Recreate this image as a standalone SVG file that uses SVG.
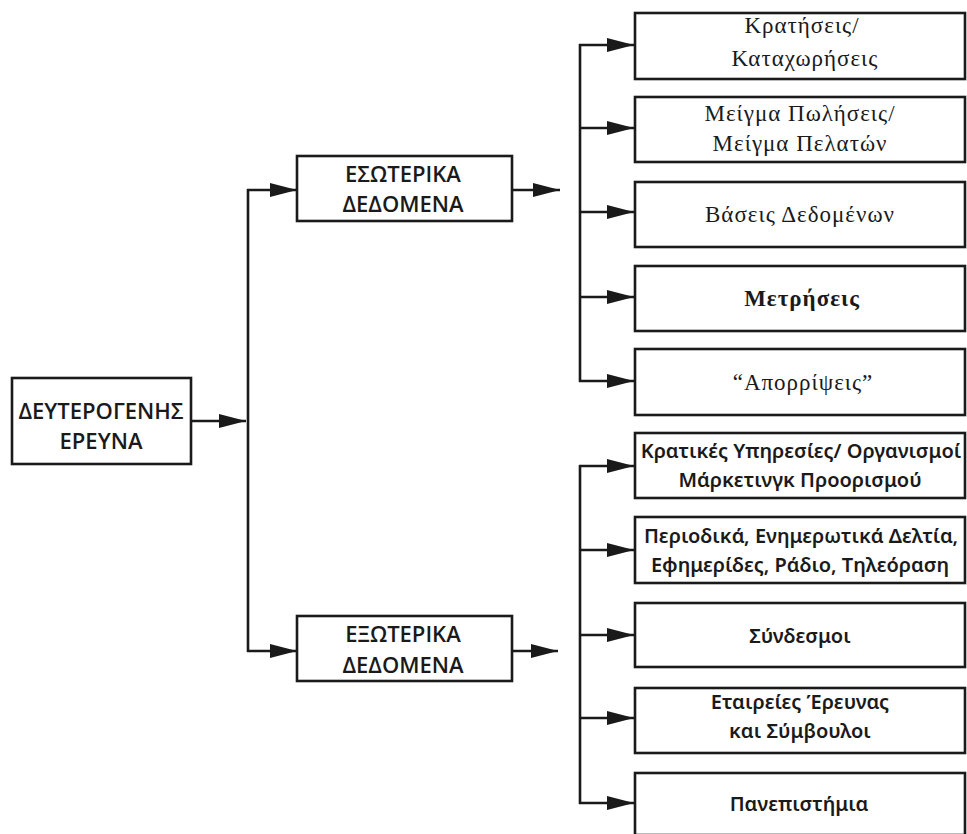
<svg xmlns="http://www.w3.org/2000/svg" width="967" height="834" viewBox="0 0 967 834">
<defs>
<style>
.box{fill:#fff;stroke:#1a1a1a;stroke-width:2.6}
.ln{fill:none;stroke:#1a1a1a;stroke-width:2.6}
.cap{font-family:"Open Sans","Noto Sans","DejaVu Sans",sans-serif;font-size:22px;font-weight:600;fill:#1a1a1a;text-anchor:middle}
.ser{font-family:"Liberation Serif","DejaVu Serif",serif;font-size:23px;letter-spacing:1px;fill:#1a1a1a;text-anchor:middle}
.sb{font-family:"Noto Sans","DejaVu Sans",sans-serif;font-size:20px;font-weight:600;fill:#1a1a1a;text-anchor:middle}
</style>
<marker id="ah" markerUnits="userSpaceOnUse" markerWidth="28" markerHeight="14" refX="27" refY="7" orient="auto">
<path d="M0,0 L27,7 L0,14 z" fill="#1a1a1a"/>
</marker>
</defs>
<rect width="967" height="834" fill="#fff"/>
<g id="connectors">
<line class="ln" x1="191" y1="421" x2="246" y2="421" marker-end="url(#ah)"/>
<line class="ln" x1="248" y1="189" x2="248" y2="652"/>
<line class="ln" x1="247" y1="190" x2="297" y2="190" marker-end="url(#ah)"/>
<line class="ln" x1="247" y1="651" x2="297" y2="651" marker-end="url(#ah)"/>
<line class="ln" x1="512" y1="190" x2="560" y2="190" marker-end="url(#ah)"/>
<line class="ln" x1="512" y1="651" x2="558" y2="651" marker-end="url(#ah)"/>
<line class="ln" x1="580" y1="44" x2="580" y2="382"/>
<line class="ln" x1="579" y1="45" x2="634" y2="45" marker-end="url(#ah)"/>
<line class="ln" x1="579" y1="128" x2="634" y2="128" marker-end="url(#ah)"/>
<line class="ln" x1="579" y1="212" x2="634" y2="212" marker-end="url(#ah)"/>
<line class="ln" x1="579" y1="297" x2="634" y2="297" marker-end="url(#ah)"/>
<line class="ln" x1="579" y1="381" x2="634" y2="381" marker-end="url(#ah)"/>
<line class="ln" x1="580" y1="465" x2="580" y2="804"/>
<line class="ln" x1="579" y1="466" x2="634" y2="466" marker-end="url(#ah)"/>
<line class="ln" x1="579" y1="550" x2="634" y2="550" marker-end="url(#ah)"/>
<line class="ln" x1="579" y1="635" x2="634" y2="635" marker-end="url(#ah)"/>
<line class="ln" x1="579" y1="718" x2="634" y2="718" marker-end="url(#ah)"/>
<line class="ln" x1="579" y1="803" x2="634" y2="803" marker-end="url(#ah)"/>
</g>
<g id="n-deuterogenis"><rect class="box" x="12" y="378" width="179" height="86"/>
<text class="cap" x="101" y="419">ΔΕΥΤΕΡΟΓΕΝΗΣ</text><text class="cap" x="101" y="449">ΕΡΕΥΝΑ</text></g>
<g id="n-esoterika"><rect class="box" x="297" y="156" width="215" height="65"/>
<text class="cap" x="403" y="182">ΕΣΩΤΕΡΙΚΑ</text><text class="cap" x="403" y="212">ΔΕΔΟΜΕΝΑ</text></g>
<g id="n-exoterika"><rect class="box" x="297" y="616" width="215" height="65"/>
<text class="cap" x="403" y="642">ΕΞΩΤΕΡΙΚΑ</text><text class="cap" x="403" y="673">ΔΕΔΟΜΕΝΑ</text></g>
<g id="n-kratiseis"><rect class="box" x="635" y="13" width="330" height="66"/>
<text class="ser" x="802" y="33">Κρατήσεις/</text><text class="ser" x="805" y="66">Καταχωρήσεις</text></g>
<g id="n-meigma"><rect class="box" x="635" y="97" width="330" height="65"/>
<text class="ser" x="800" y="121">Μείγμα Πωλήσεις/</text><text class="ser" x="800" y="151">Μείγμα Πελατών</text></g>
<g id="n-vaseis"><rect class="box" x="635" y="182" width="330" height="65"/>
<text class="ser" x="800" y="222">Βάσεις Δεδομένων</text></g>
<g id="n-metriseis"><rect class="box" x="635" y="266" width="330" height="65"/>
<text class="ser" x="802" y="306" font-weight="bold" letter-spacing="0.3">Μετρήσεις</text></g>
<g id="n-aporripseis"><rect class="box" x="635" y="349" width="330" height="66"/>
<text class="ser" x="803" y="390">“Απορρίψεις”</text></g>
<g id="n-kratikes"><rect class="box" x="635" y="433" width="330" height="65"/>
<text class="sb" x="801" y="458">Κρατικές Υπηρεσίες/ Οργανισμοί</text><text class="sb" x="800" y="487">Μάρκετινγκ Προορισμού</text></g>
<g id="n-periodika"><rect class="box" x="635" y="517" width="330" height="66"/>
<text class="sb" x="801" y="543">Περιοδικά, Ενημερωτικά Δελτία,</text><text class="sb" x="800" y="572">Εφημερίδες, Ράδιο, Τηλεόραση</text></g>
<g id="n-syndesmoi"><rect class="box" x="635" y="603" width="330" height="64"/>
<text class="sb" x="800" y="643" font-size="21">Σύνδεσμοι</text></g>
<g id="n-etaireies"><rect class="box" x="635" y="688" width="330" height="65"/>
<text class="sb" x="800" y="709">Εταιρείες Έρευνας</text><text class="sb" x="800" y="738">και Σύμβουλοι</text></g>
<g id="n-panepistimia"><rect class="box" x="635" y="773" width="330" height="62"/>
<text class="sb" x="799" y="811" font-size="21">Πανεπιστήμια</text></g>
</svg>
